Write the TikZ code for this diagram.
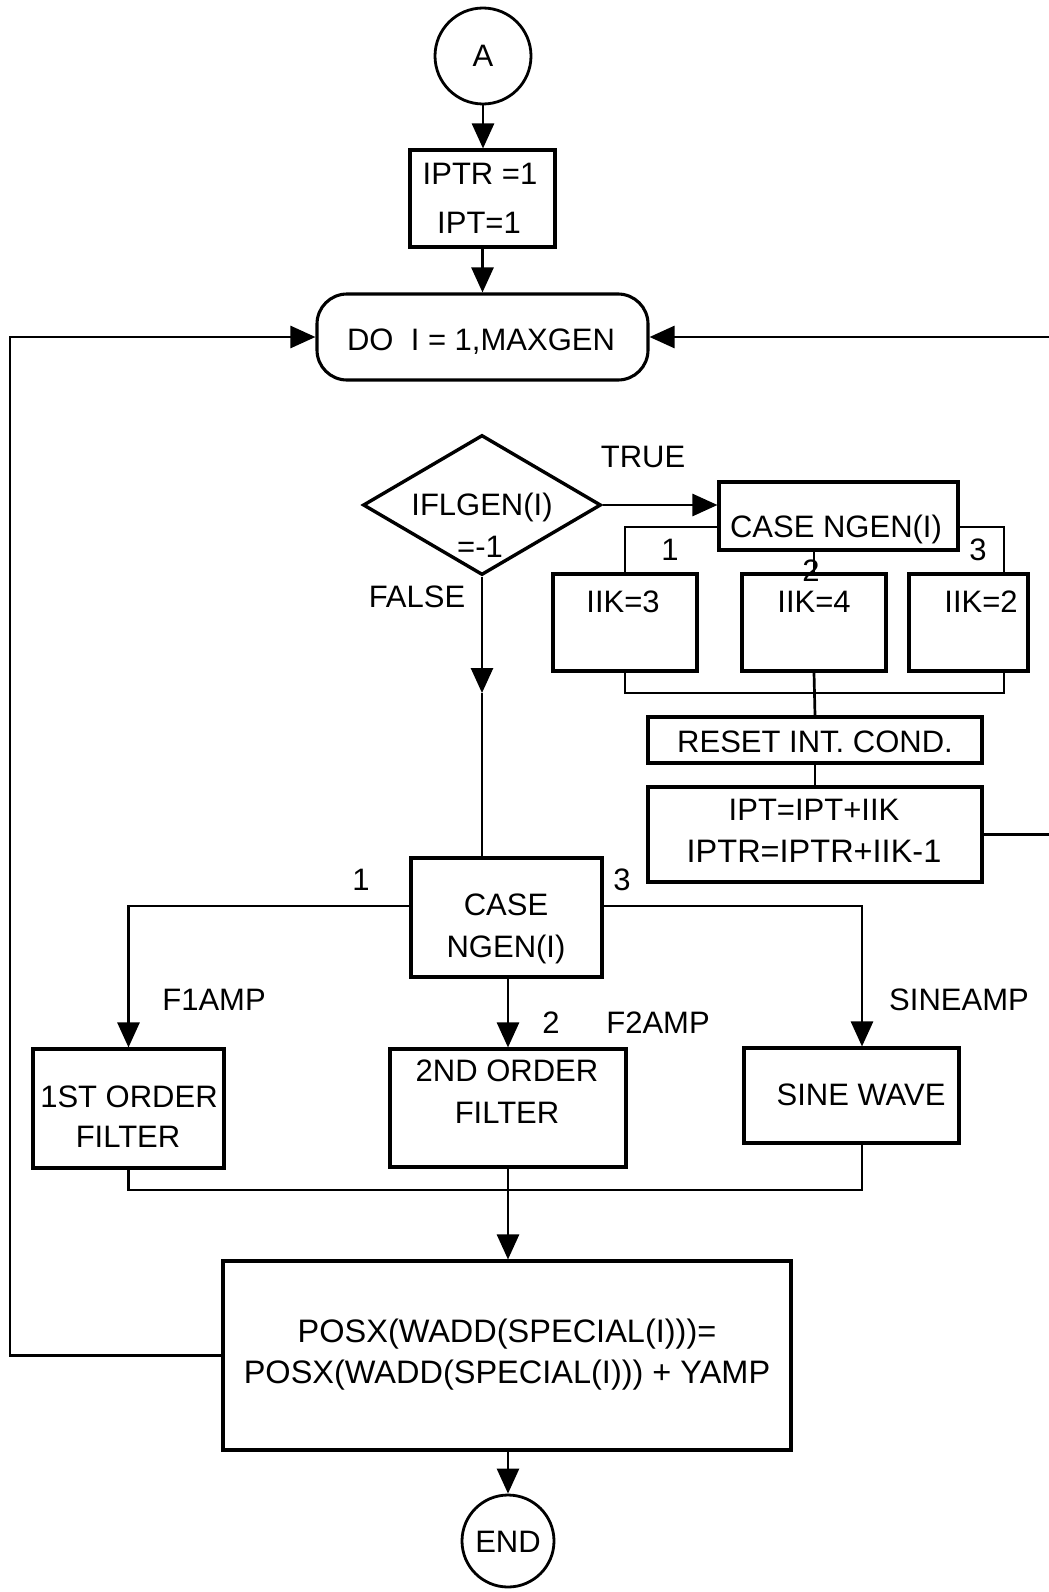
\documentclass[tikz,border=0pt]{standalone}
\usepackage{fontspec}
\setmainfont{Liberation Sans}
\usetikzlibrary{arrows.meta,shapes.geometric,calc}

\begin{document}
\begin{tikzpicture}[x=1bp,y=-1bp,
  box/.style={draw, line width=3.1bp, rectangle, inner sep=0pt},
  term/.style={draw, line width=2.8bp, circle, inner sep=0pt},
  txt/.style={anchor=base, inner sep=0pt, font=\fontsize{31bp}{36bp}\selectfont},
  wide/.style={font=\fontsize{32.5bp}{36bp}\selectfont},
  conn/.style={line width=2.7bp},
  arr/.style={conn, -{Triangle[width=22bp,length=25bp]}},
]
\useasboundingbox (0,0) rectangle (1048,1592);

% ---- shapes ----
\node[term, minimum size=96bp] (a) at (483,56) {};
\node[box, minimum width=145bp, minimum height=97bp] (init) at (482.5,198.5) {};
\node[box, rounded corners=30bp, minimum width=331bp, minimum height=86bp] (do) at (482.5,337) {};
\node[draw, line width=3.4bp, diamond, inner sep=0pt, minimum width=238bp, minimum height=140bp] (dec) at (482,505) {};
\node[box, minimum width=239bp, minimum height=68bp] (case1) at (838.5,516) {};
\node[box, minimum width=144bp, minimum height=97bp] (iik3) at (625,622.5) {};
\node[box, minimum width=144bp, minimum height=97bp] (iik4) at (814,622.5) {};
\node[box, minimum width=119bp, minimum height=97bp] (iik2) at (968.5,622.5) {};
\node[box, minimum width=334bp, minimum height=46bp] (reset) at (815,740) {};
\node[box, minimum width=334bp, minimum height=95bp] (ipt) at (815,834.5) {};
\node[box, minimum width=191bp, minimum height=119bp] (case2) at (506.5,917.5) {};
\node[box, minimum width=191bp, minimum height=119bp] (f1) at (128.5,1108.5) {};
\node[box, minimum width=236bp, minimum height=118bp] (f2) at (508,1108) {};
\node[box, minimum width=215bp, minimum height=95bp] (sine) at (851.5,1095.5) {};
\node[box, minimum width=568bp, minimum height=189bp] (big) at (507,1355.5) {};
\node[term, minimum size=92bp] (end) at (508,1541) {};

% ---- texts ----
\node[txt] (ta) at (483,67) {A};
\node[txt] (tinit1) at (480,184) {IPTR =1};
\node[txt] (tinit2) at (479,233) {IPT=1};
\node[txt] (tdo) at (481,350) {DO~~I = 1,MAXGEN};
\node[txt] (tdec1) at (482,515) {IFLGEN(I)};
\node[txt] (tdec2) at (480,557) {=-1};
\node[txt] (ttrue) at (643,467) {TRUE};
\node[txt] (tfalse) at (417,607) {FALSE};
\node[txt] (tcase1) at (836,537) {CASE NGEN(I)};
\node[txt] (tc1a) at (670,560) {1};
\node[txt] (tc1c) at (978,560) {3};
\node[txt] (tiik3) at (623,612) {IIK=3};
\node[txt] (tiik4) at (814,612) {IIK=4};
\node[txt] (tiik2) at (981,612) {IIK=2};
\node[txt] (treset) at (815,752) {RESET INT. COND.};
\node[txt] (tipt1) at (814,820) {IPT=IPT+IIK};
\node[txt, wide] (tipt2) at (814,862) {IPTR=IPTR+IIK-1};
\node[txt] (tcase2a) at (506,915) {CASE};
\node[txt] (tcase2b) at (506,957) {NGEN(I)};
\node[txt] (tc2a) at (361,890) {1};
\node[txt] (tc2c) at (622,890) {3};
\node[txt] (tf1amp) at (214,1010) {F1AMP};
\node[txt] (tf2amp) at (658,1033) {F2AMP};
\node[txt] (tsamp) at (959,1010) {SINEAMP};
\node[txt] (tf1a) at (129,1107) {1ST ORDER};
\node[txt] (tf1b) at (128,1147) {FILTER};
\node[txt] (tf2a) at (507,1081) {2ND ORDER};
\node[txt] (tf2b) at (507,1123) {FILTER};
\node[txt] (tsine) at (861,1105) {SINE WAVE};
\node[txt, wide] (tbig1) at (507,1342) {POSX(WADD(SPECIAL(I)))=};
\node[txt, wide] (tbig2) at (507,1383) {POSX(WADD(SPECIAL(I))) + YAMP};
\node[txt] (tend) at (508,1552) {END};

% ---- helper coordinates ----
\coordinate (c1l) at (624,527);
\coordinate (c1r) at (1004,527);
\coordinate (mrg) at (814,693);
\coordinate (rloop) at (1056,0);
\coordinate (fmid) at (482,693);
\coordinate (c2y) at (0,906);
\coordinate (sx) at (862,0);
\coordinate (m2) at (508,1190);
\coordinate (lx) at (10,0);

% ---- connectors ----
\draw[arr] (a.south) -- (a.south |- init.north);
\draw[arr] (init.south) -- (init.south |- do.north);
\draw[arr] (dec.east) -- (dec.east -| case1.west);
\draw[conn] (c1l -| case1.west) -| (iik3.north);
\draw[conn] (c1r -| case1.east) -| (c1r |- iik2.north);
\draw[conn] (case1.south -| iik4.north) -- (iik4.north);
\draw[conn] (iik3.south) |- (mrg -| c1r) -- (c1r |- iik2.south);
\draw[conn] (iik4.south) -- (reset.north);
\draw[conn] (reset.south) -- (ipt.north);
\draw[arr] (ipt.east) -- (ipt.east -| rloop) -- (rloop |- do.east) -- (do.east);
\draw[arr] (dec.south) -- (fmid);
\draw[conn] (fmid) -- (fmid |- case2.north);
\draw[arr] (c2y -| case2.west) -| (f1.north);
\draw[arr] (c2y -| case2.east) -| (sx |- sine.north);
\draw[arr] (f2.north |- case2.south) -- (f2.north);
\draw[conn] (f1.south) |- (m2 -| sx) -- (sx |- sine.south);
\draw[arr] (f2.south) -- (f2.south |- big.north);
\draw[arr] (big.west) -- (big.west -| lx) -- (lx |- do.west) -- (do.west);
\draw[arr] (end.north |- big.south) -- (end.north);

% branch numbers drawn over their lines
\node[txt] (tc1b) at (811,581) {2};
\node[txt] (tc2b) at (551,1033) {2};
\end{tikzpicture}
\end{document}
